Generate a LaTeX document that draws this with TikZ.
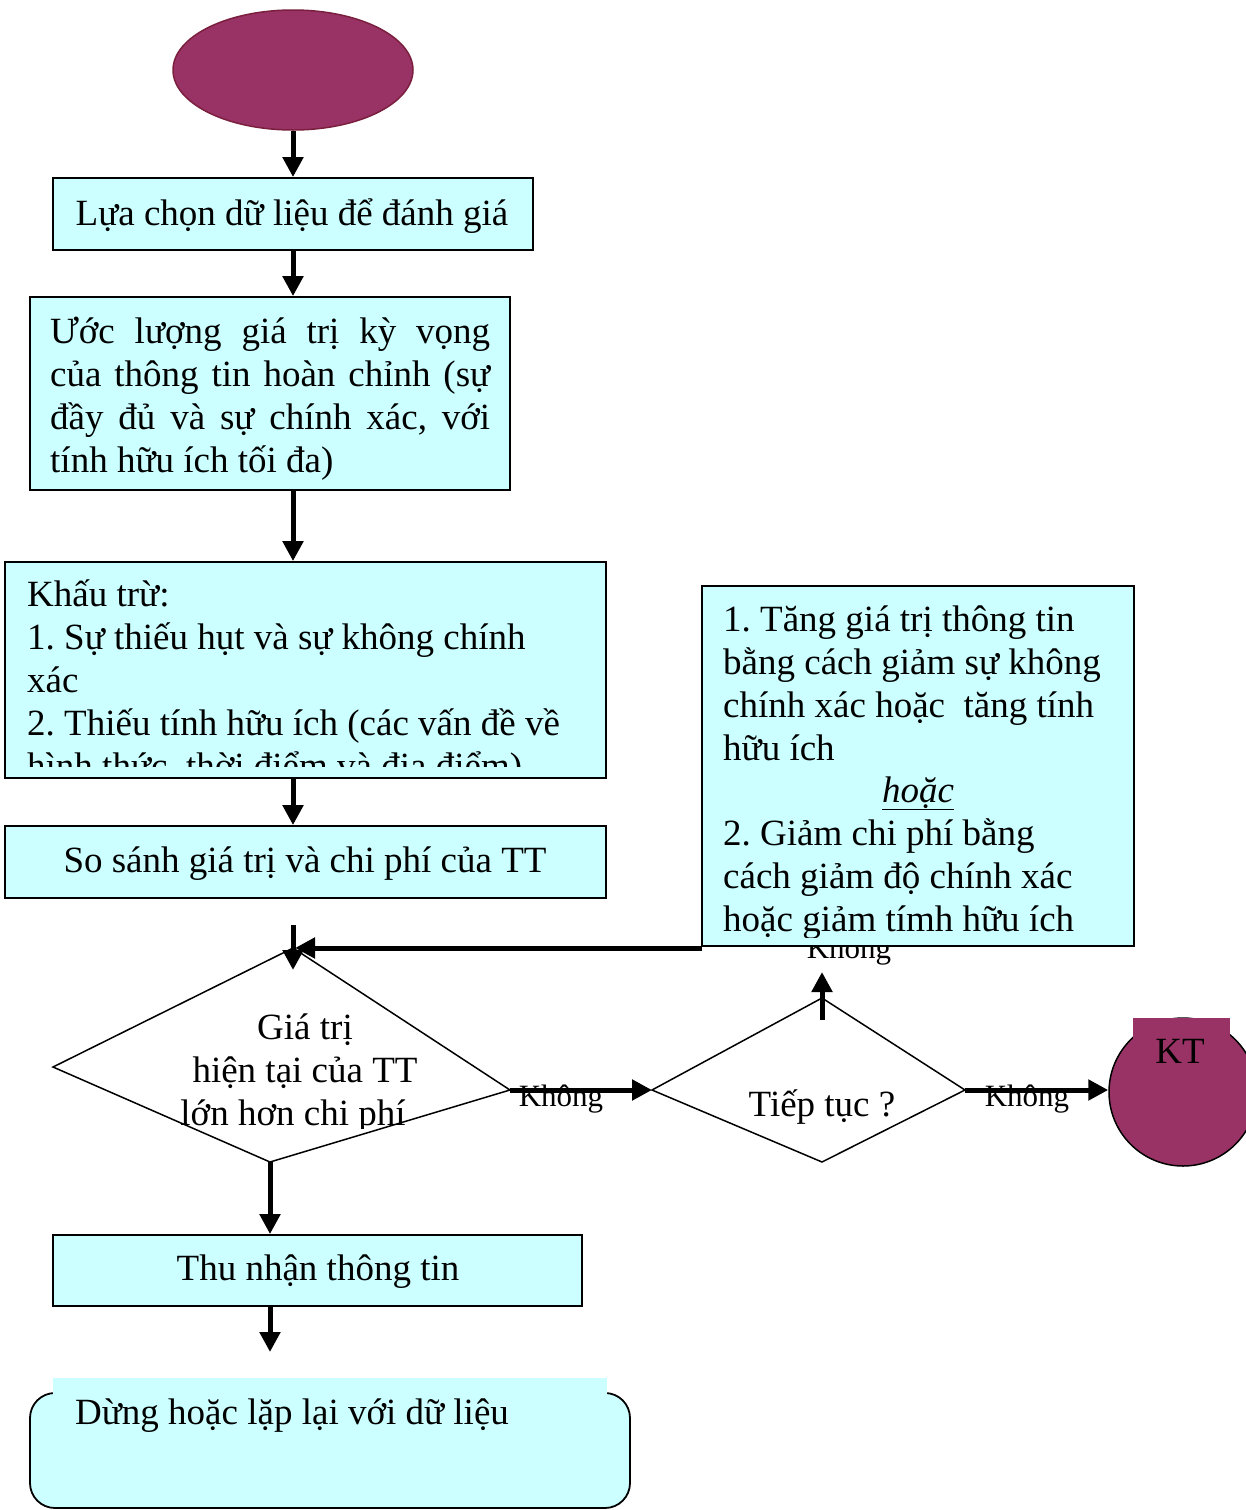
\documentclass[tikz,border=0pt]{standalone}
\usepackage{fontspec}
\setmainfont{Liberation Serif}
\usetikzlibrary{arrows.meta,shapes.geometric}
\definecolor{boxfill}{HTML}{CCFFFF}
\definecolor{plum}{HTML}{993366}
\definecolor{plumedge}{HTML}{7A1F3D}
\frenchspacing
\begin{document}
\begin{tikzpicture}[x=1pt,y=-1pt,
  box/.style={draw, line width=1.8pt, fill=boxfill, inner sep=0pt},
  flow/.style={line width=5pt, -{Triangle[length=20pt,width=20pt]}},
  txt/.style={font=\fontsize{37}{43}\selectfont, inner sep=0pt},
  lbl/.style={txt, anchor=base},
  ln/.style={txt, anchor=base west},
  branch/.style={font=\fontsize{31}{36}\selectfont, inner sep=0pt, anchor=base},
  shape edge/.style={draw, line width=1.5pt}
  ]
\useasboundingbox (0,0) rectangle (1245,1510);

% start terminal
\node[ellipse, draw=plumedge, line width=1.5pt, fill=plum, minimum width=240pt, minimum height=120pt] (start) at (293,70) {};

% process boxes
\node[box, minimum width=480pt, minimum height=72pt] (sel) at (293,214) {};
\node[lbl] (selt) at (292,225) {Lựa chọn dữ liệu để đánh giá};

\node[box, minimum width=480pt, minimum height=193pt] (est) at (270,393.5) {};
\node[ln] (est1) at (50,343) {\makebox[440pt][s]{Ước lượng giá trị kỳ vọng}};
\node[ln] (est2) at (50,386) {\makebox[440pt][s]{của thông tin hoàn chỉnh (sự}};
\node[ln] (est3) at (50,429) {\makebox[440pt][s]{đầy đủ và sự chính xác, với}};
\node[ln] (est4) at (50,472) {tính hữu ích tối đa)};

\node[box, minimum width=601pt, minimum height=216pt] (ded) at (305.5,670) {};
\begin{scope}
  \clip (5,562) rectangle (606,766);
  \node[ln] (ded1) at (27,606) {Khấu trừ:};
  \node[ln] (ded2) at (27,649) {1. Sự thiếu hụt và sự không chính};
  \node[ln] (ded3) at (27,692) {xác};
  \node[ln] (ded4) at (27,735) {2. Thiếu tính hữu ích (các vấn đề về};
  \node[ln] (ded5) at (27,778) {hình thức, thời điểm và địa điểm)};
\end{scope}

\node[box, minimum width=601pt, minimum height=72pt] (cmp) at (305.5,862) {};
\node[lbl] (cmpt) at (305,872) {So sánh giá trị và chi phí của TT};

% decision: value greater than cost
\coordinate (d1t) at (293,948);
\coordinate (d1l) at (53,1067);
\coordinate (d1r) at (510,1090);
\coordinate (d1b) at (270,1162);
\draw[shape edge, fill=white] (d1t) -- (d1r) -- (d1b) -- (d1l) -- cycle;
\begin{scope}
  \clip (150,990) rectangle (460,1128);
  \node[lbl] (q1a) at (305,1039) {Giá trị};
  \node[lbl] (q1b) at (305,1082) {hiện tại của TT};
  \node[lbl] (q1c) at (293,1125) {lớn hơn chi phí};
\end{scope}

% decision: continue
\coordinate (d2t) at (822,998);
\coordinate (d2l) at (652,1090);
\coordinate (d2r) at (965,1090);
\coordinate (d2b) at (822,1162);
\draw[shape edge, fill=white] (d2t) -- (d2r) -- (d2b) -- (d2l) -- cycle;
\node[lbl] (q2) at (822,1116) {Tiếp tục ?};

% end terminal
\node[circle, draw=black, line width=1.5pt, fill=plum, minimum size=148pt] (stop) at (1183,1092) {};
\fill[plum] (1133,1018) rectangle (1230,1060);
\node[lbl] (stopt) at (1180,1063) {KT};

% branch labels
\node[branch] (no1) at (561,1106) {Không};
\node[branch] (no2) at (1027,1106) {Không};
\node[branch] (no3) at (849,958) {Không};

% improvement box
\node[box, minimum width=432pt, minimum height=360pt] (imp) at (918,766) {};
\begin{scope}
  \clip (702,586) rectangle (1134,937);
  \node[ln] (imp1) at (723,631) {1. Tăng giá trị thông tin};
  \node[ln] (imp2) at (723,674) {bằng cách giảm sự không};
  \node[ln] (imp3) at (723,717) {chính xác hoặc\ \ tăng tính};
  \node[ln] (imp4) at (723,760) {hữu ích};
  \node[lbl] (imp5) at (918,802) {\underline{\textit{hoặc}}};
  \node[ln] (imp6) at (723,845) {2. Giảm chi phí bằng};
  \node[ln] (imp7) at (723,888) {cách giảm độ chính xác};
  \node[ln] (imp8) at (723,931) {hoặc giảm tímh hữu ích};
\end{scope}

\node[box, minimum width=529pt, minimum height=71pt] (get) at (317.5,1270.5) {};
\node[lbl] (gett) at (318,1280) {Thu nhận thông tin};

% final rounded box
\node[draw, line width=1.8pt, fill=boxfill, rounded corners=25pt, minimum width=600pt, minimum height=115pt, inner sep=0pt] (fin) at (330,1450.5) {};
\fill[boxfill] (53,1378) rectangle (607,1440);
\node[ln] (fint) at (75,1424) {Dừng hoặc lặp lại với dữ liệu};

% connectors
\coordinate (c1) at (293,925);
\coordinate (c1e) at (293,970);
\coordinate (c2s) at (702,948);
\coordinate (c2e) at (295,948);
\coordinate (c3s) at (822,1020);
\coordinate (c3e) at (822,972);
\coordinate (c4s) at (270,1306);
\coordinate (c4e) at (270,1352);

\draw[flow] (start.south) -- (sel.north);
\draw[flow] (sel.south) -- (sel.south |- est.north);
\draw[flow] (est.south -| sel.south) -- (ded.north -| sel.south);
\draw[flow] (ded.south -| sel.south) -- (cmp.north -| sel.south);
\draw[flow] (c1) -- (c1e);
\draw[flow] (c2s) -- (c2e);
\draw[flow] (c3s) -- (c3e);
\draw[flow] (d1r) -- (d2l);
\draw[flow] (d2r) -- (d2r -| stop.west);
\draw[flow] (d1b) -- (d1b |- get.north);
\draw[flow] (c4s) -- (c4e);
\end{tikzpicture}
\end{document}
